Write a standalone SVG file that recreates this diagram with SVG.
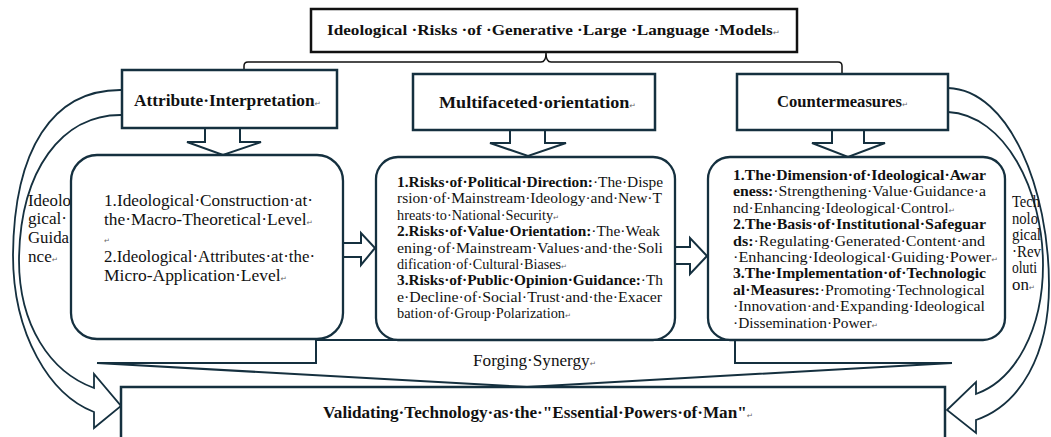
<svg xmlns="http://www.w3.org/2000/svg" width="1051" height="437" viewBox="0 0 1051 437">
<style>
.bx{fill:#fff;stroke:#15303f;stroke-width:2.5}
.rb{fill:#fff;stroke:#15303f;stroke-width:2.3}
.ba{fill:#fff;stroke:#15303f;stroke-width:2}
.ln{fill:none;stroke:#15303f;stroke-width:2}
.cv{fill:none;stroke:#15303f;stroke-width:1.8}
.t{font-family:"Liberation Serif","Times New Roman",serif;fill:#111}
.b{font-weight:bold}
.r{font-family:"DejaVu Sans",sans-serif;font-size:7px;fill:#666;font-weight:normal}
.side{font-size:16px}
</style>
<rect width="1051" height="437" fill="#fff"/>

<g id="connectors">
  <path d="M244,72 V66 Q244,62 248,62 H541 Q546,62 546,53 Q546,62 551,62 H838 Q842,62 842,66 V75" fill="none" stroke="#111" stroke-width="1.5"/>
  <path class="ba" d="M205,128 V142 H187 L223,155 L261,142 H240 V128"/>
  <path class="ba" d="M510,130 V143 H490 L528,156 L566,143 H545 V130"/>
  <path class="ba" d="M832,130 V143 H812 L848,157 L885,143 H864 V130"/>
  <path class="ba" d="M343,243 H361 V233 L375,248 L361,265 V257 H343"/>
  <path class="ba" d="M675,247 H690 V238 L707,256 L690,274 V264 H675"/>
  <path class="cv" d="M122,90 C52,89 14,150 13,255 C13,335 50,395 94,412 L94,428 L121,406 L94,374 L94,388 C50,372 19,325 19,260 C20,170 62,114 122,115"/>
  <path class="cv" d="M948,88 C1010,90 1049,190 1049,285 C1049,355 1020,405 976,420 L976,433 L947,410 L976,382 L976,394 C1015,380 1043,330 1043,265 C1043,190 1005,115 948,112"/>
  <polyline class="ln" points="97,363 316,363 316,340 735,340 735,363 952,363"/>
  <polyline class="ln" points="97,363 527,387 952,363"/>
  <text class="t" x="473" y="366" font-size="16" textLength="123" lengthAdjust="spacingAndGlyphs">Forging·Synergy<tspan class="r">↵</tspan></text>
  <g class="t side">
    <text x="28" y="206" textLength="43" lengthAdjust="spacingAndGlyphs">Ideolo</text>
    <text x="28" y="224" textLength="39" lengthAdjust="spacingAndGlyphs">gical·</text>
    <text x="28" y="243" textLength="41" lengthAdjust="spacingAndGlyphs">Guida</text>
    <text x="28" y="262" textLength="30" lengthAdjust="spacingAndGlyphs">nce<tspan class="r">↵</tspan></text>
  </g>
  <g class="t side">
    <text x="1012" y="207" textLength="28" lengthAdjust="spacingAndGlyphs">Tech</text>
    <text x="1012" y="223.5" textLength="26" lengthAdjust="spacingAndGlyphs">nolo</text>
    <text x="1012" y="240" textLength="29" lengthAdjust="spacingAndGlyphs">gical</text>
    <text x="1012" y="256.5" textLength="29" lengthAdjust="spacingAndGlyphs">·Rev</text>
    <text x="1012" y="273" textLength="25" lengthAdjust="spacingAndGlyphs">oluti</text>
    <text x="1012" y="289.5" textLength="23" lengthAdjust="spacingAndGlyphs">on<tspan class="r">↵</tspan></text>
  </g>
</g>

<g id="title">
  <rect x="311" y="9" width="486" height="43" fill="#fff" stroke="#111" stroke-width="2.5"/>
  <text class="t b" x="327" y="35" font-size="14" textLength="453" lengthAdjust="spacingAndGlyphs">Ideological ·Risks ·of ·Generative ·Large ·Language ·Models<tspan class="r">↵</tspan></text>
</g>

<g id="attribute-interpretation">
  <rect class="bx" x="122" y="70" width="215" height="58"/>
  <text class="t b" x="134" y="106" font-size="16" textLength="187" lengthAdjust="spacingAndGlyphs">Attribute·Interpretation<tspan class="r">↵</tspan></text>
</g>

<g id="multifaceted-orientation">
  <rect class="bx" x="413" y="74" width="242" height="56"/>
  <text class="t b" x="439" y="108" font-size="16" textLength="197" lengthAdjust="spacingAndGlyphs">Multifaceted·orientation<tspan class="r">↵</tspan></text>
</g>

<g id="countermeasures">
  <rect class="bx" x="737" y="74" width="211" height="56"/>
  <text class="t b" x="777" y="107" font-size="16" textLength="131" lengthAdjust="spacingAndGlyphs">Countermeasures<tspan class="r">↵</tspan></text>
</g>

<g id="interpretation-detail">
  <rect class="rb" x="71" y="155" width="272" height="184" rx="26"/>
  <g class="t" font-size="16">
    <text x="104" y="206" textLength="209" lengthAdjust="spacingAndGlyphs">1.Ideological·Construction·at·</text>
    <text x="104" y="224.5" textLength="209" lengthAdjust="spacingAndGlyphs">the·Macro-Theoretical·Level<tspan class="r">↵</tspan></text>
    <text x="104" y="243"><tspan class="r">↵</tspan></text>
    <text x="104" y="262" textLength="211" lengthAdjust="spacingAndGlyphs">2.Ideological·Attributes·at·the·</text>
    <text x="104" y="281" textLength="183" lengthAdjust="spacingAndGlyphs">Micro-Application·Level<tspan class="r">↵</tspan></text>
  </g>
</g>

<g id="orientation-detail">
  <rect class="rb" x="376" y="157" width="299" height="183" rx="22"/>
  <g class="t" font-size="14">
    <text x="397" y="187" textLength="266" lengthAdjust="spacingAndGlyphs"><tspan class="b">1.Risks·of·Political·Direction:</tspan>·The·Dispe</text>
    <text x="397" y="203.4" textLength="265" lengthAdjust="spacingAndGlyphs">rsion·of·Mainstream·Ideology·and·New·T</text>
    <text x="397" y="219.8" textLength="162" lengthAdjust="spacingAndGlyphs">hreats·to·National·Security<tspan class="r">↵</tspan></text>
    <text x="397" y="236.2" textLength="263" lengthAdjust="spacingAndGlyphs"><tspan class="b">2.Risks·of·Value·Orientation:</tspan>·The·Weak</text>
    <text x="397" y="252.6" textLength="266" lengthAdjust="spacingAndGlyphs">ening·of·Mainstream·Values·and·the·Soli</text>
    <text x="397" y="269" textLength="170" lengthAdjust="spacingAndGlyphs">dification·of·Cultural·Biases<tspan class="r">↵</tspan></text>
    <text x="397" y="285.4" textLength="266" lengthAdjust="spacingAndGlyphs"><tspan class="b">3.Risks·of·Public·Opinion·Guidance:</tspan>·Th</text>
    <text x="397" y="301.8" textLength="265" lengthAdjust="spacingAndGlyphs">e·Decline·of·Social·Trust·and·the·Exacer</text>
    <text x="397" y="318.2" textLength="174" lengthAdjust="spacingAndGlyphs">bation·of·Group·Polarization<tspan class="r">↵</tspan></text>
  </g>
</g>

<g id="countermeasures-detail">
  <rect class="rb" x="708" y="157" width="297" height="183" rx="22"/>
  <g class="t" font-size="14">
    <text x="733" y="180" textLength="253" lengthAdjust="spacingAndGlyphs"><tspan class="b">1.The·Dimension·of·Ideological·Awar</tspan></text>
    <text x="733" y="196.4" textLength="253" lengthAdjust="spacingAndGlyphs"><tspan class="b">eness:</tspan>·Strengthening·Value·Guidance·a</text>
    <text x="733" y="212.8" textLength="222" lengthAdjust="spacingAndGlyphs">nd·Enhancing·Ideological·Control<tspan class="r">↵</tspan></text>
    <text x="733" y="229.2" textLength="253" lengthAdjust="spacingAndGlyphs"><tspan class="b">2.The·Basis·of·Institutional·Safeguar</tspan></text>
    <text x="733" y="245.6" textLength="252" lengthAdjust="spacingAndGlyphs"><tspan class="b">ds:</tspan>·Regulating·Generated·Content·and</text>
    <text x="733" y="262" textLength="265" lengthAdjust="spacingAndGlyphs">·Enhancing·Ideological·Guiding·Power<tspan class="r">↵</tspan></text>
    <text x="733" y="278.4" textLength="253" lengthAdjust="spacingAndGlyphs"><tspan class="b">3.The·Implementation·of·Technologic</tspan></text>
    <text x="733" y="294.8" textLength="252" lengthAdjust="spacingAndGlyphs"><tspan class="b">al·Measures:</tspan>·Promoting·Technological</text>
    <text x="733" y="311.2" textLength="252" lengthAdjust="spacingAndGlyphs">·Innovation·and·Expanding·Ideological</text>
    <text x="733" y="327.6" textLength="145" lengthAdjust="spacingAndGlyphs">·Dissemination·Power<tspan class="r">↵</tspan></text>
  </g>
</g>

<g id="validating-technology">
  <rect class="bx" x="121" y="387" width="824" height="56"/>
  <text class="t b" x="323" y="418" font-size="16" textLength="430" lengthAdjust="spacingAndGlyphs">Validating·Technology·as·the·"Essential·Powers·of·Man"<tspan class="r">↵</tspan></text>
</g>
</svg>
